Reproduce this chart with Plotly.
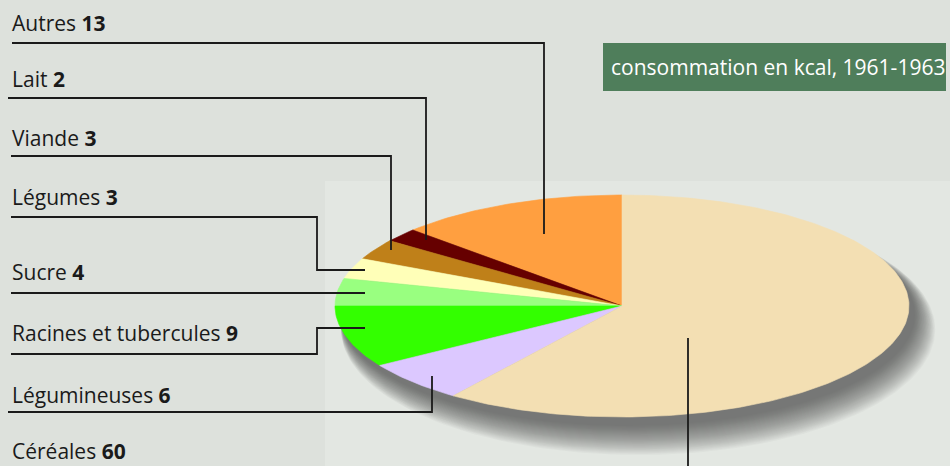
import numpy as np
import plotly.graph_objects as go

# ---- data ----
categories = ["Autres", "Lait", "Viande", "Légumes", "Sucre",
              "Racines et tubercules", "Légumineuses", "Céréales"]
values = [13, 2, 3, 3, 4, 9, 6, 60]
colors = ["#FF9F40", "#660000", "#BF8019", "#FFFFB8", "#99FF80",
          "#33FF00", "#DCC8FF", "#F3DFB3"]
title_text = "consommation en kcal, 1961-1963"

# ---- layout constants ----
W, H = 950, 466
CX, CY, RX, RY = 622, 306, 287, 111
BG = "#DDE1DC"
PANEL = "#E3E7E2"
INK = "#1A1A1A"
FONT = "Open Sans"

label_y = [23, 79, 138, 197, 272, 333, 395, 451]
leaders = [
    [(12, 43), (544, 43), (544, 234)],
    [(8, 98), (426, 98), (426, 240)],
    [(11, 156), (391, 156), (391, 250)],
    [(11, 217), (317, 217), (317, 270), (365, 270)],
    [(11, 293), (365, 293)],
    [(11, 354), (317, 354), (317, 328), (365, 328)],
    [(8, 412), (432, 412), (432, 376)],
    [(688, 338), (688, 470)],
]

fig = go.Figure()

# soft shadow: ellipses growing only towards bottom-right
t = np.linspace(0, 2 * np.pi, 240)
for k in range(0, 30):
    fig.add_trace(go.Scatter(
        x=CX + 6 + 0.35 * k + (RX + 0.35 * k) * np.cos(t),
        y=CY + 9 + 0.5 * k + (RY + 0.5 * k) * np.sin(t),
        mode="lines", fill="toself", line=dict(width=0),
        fillcolor="rgba(48,50,50,0.032)", hoverinfo="skip", showlegend=False))

# pie wedges: counter-clockwise from 12 o'clock
total = sum(values)
start = 90.0
for cat, v, c in zip(categories, values, colors):
    end = start + 360.0 * v / total
    a = np.radians(np.linspace(start, end, max(3, int(v * 4))))
    xs = np.concatenate([[CX], CX + RX * np.cos(a), [CX]])
    ys = np.concatenate([[CY], CY - RY * np.sin(a), [CY]])
    fig.add_trace(go.Scatter(
        x=xs, y=ys, mode="lines", fill="toself", fillcolor=c,
        line=dict(width=0.6, color=c), name=cat, showlegend=False,
        hovertemplate=f"{cat}: {v}<extra></extra>"))
    start = end

# leader lines
for pts in leaders:
    fig.add_trace(go.Scatter(
        x=[p[0] for p in pts], y=[p[1] for p in pts], mode="lines",
        line=dict(color=INK, width=1.8), hoverinfo="skip", showlegend=False))

annotations = []
for cat, v, y in zip(categories, values, label_y):
    annotations.append(dict(
        x=10, y=y, xref="x", yref="y", xanchor="left", yanchor="middle",
        text=f"{cat} <b>{v}</b>", showarrow=False,
        font=dict(family=FONT, size=21, color=INK)))

annotations.append(dict(
    x=778, y=67, xref="x", yref="y", xanchor="center", yanchor="middle",
    text=title_text, showarrow=False,
    font=dict(family=FONT, size=21, color="#FFFFFF")))

shapes = [
    dict(type="rect", xref="x", yref="y", x0=325, y0=181, x1=W + 5, y1=H + 5,
         fillcolor=PANEL, line=dict(width=0), layer="below"),
    dict(type="rect", xref="x", yref="y", x0=603, y0=43, x1=946, y1=91,
         fillcolor="#4F7E5B", line=dict(width=0), layer="below"),
]

fig.update_layout(
    width=W, height=H, margin=dict(l=0, r=0, t=0, b=0),
    paper_bgcolor=BG, plot_bgcolor=BG,
    xaxis=dict(range=[0, W], visible=False, fixedrange=True),
    yaxis=dict(range=[H, 0], visible=False, fixedrange=True),
    annotations=annotations, shapes=shapes, showlegend=False,
)

fig.write_html(
    "out.html", config={"displayModeBar": False},
    post_script="document.body.style.margin='0';document.body.style.overflow='hidden';",
)
